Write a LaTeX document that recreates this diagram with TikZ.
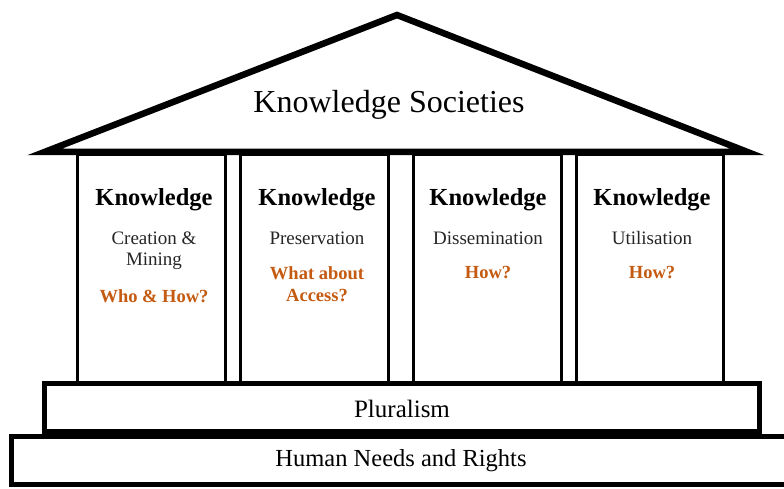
\documentclass[tikz,border=0pt]{standalone}
\usepackage{fontspec}
\setmainfont{LiberationSerif}[Extension=.ttf,UprightFont=*-Regular,BoldFont=*-Bold,ItalicFont=*-Italic,BoldItalicFont=*-BoldItalic]
\definecolor{qorange}{RGB}{197,90,17}
\begin{document}
\begin{tikzpicture}[x=1pt,y=-1pt,
  col/.style={draw=black,line width=3pt,fill=white},
  base/.style={draw=black,line width=5pt,fill=white},
  head/.style={font=\fontsize{24.5}{27}\selectfont\bfseries},
  sub/.style={font=\fontsize{19}{21}\selectfont,text=black!85},
  ask/.style={font=\fontsize{18.5}{20}\selectfont\bfseries,text=qorange}]
\useasboundingbox (0,0) rectangle (784,489);
% roof
\coordinate (rl) at (44.5,152);
\coordinate (ra) at (397,15);
\coordinate (rr) at (747.5,152);
\draw[line width=6.5pt,line join=miter,fill=white] (rl) -- (ra) -- (rr) -- cycle;
\node[font=\fontsize{32}{36}\selectfont] (title) at (389,105) {Knowledge Societies};
% columns
\draw[col] (77,155) rectangle (225,383);
\draw[col] (240,155) rectangle (388,383);
\draw[col] (413,155) rectangle (561,383);
\draw[col] (576,155) rectangle (723,383);
% column texts
\node[head] (k1) at (154,200) {Knowledge};
\node[sub] (c1a) at (154,238) {Creation \&};
\node[sub] (c1b) at (154,261) {Mining};
\node[ask] (q1) at (154,296) {Who \& How?};
\node[head] (k2) at (317,200) {Knowledge};
\node[sub] (c2a) at (317,238) {Preservation};
\node[ask] (q2a) at (317,273) {What about};
\node[ask] (q2b) at (317,296) {Access?};
\node[head] (k3) at (488,200) {Knowledge};
\node[sub] (c3a) at (488,238) {Dissemination};
\node[ask] (q3) at (488,273) {How?};
\node[head] (k4) at (652,200) {Knowledge};
\node[sub] (c4a) at (652,238) {Utilisation};
\node[ask] (q4) at (652,273) {How?};
% bases
\draw[base] (11.5,436.5) rectangle (790,484.5);
\draw[base] (44.5,383.5) rectangle (759.5,431.5);
\node[font=\fontsize{25}{28}\selectfont] (plur) at (402,409) {Pluralism};
\node[font=\fontsize{24.5}{28}\selectfont] (hum) at (401,461) {Human Needs and Rights};
\end{tikzpicture}
\end{document}
